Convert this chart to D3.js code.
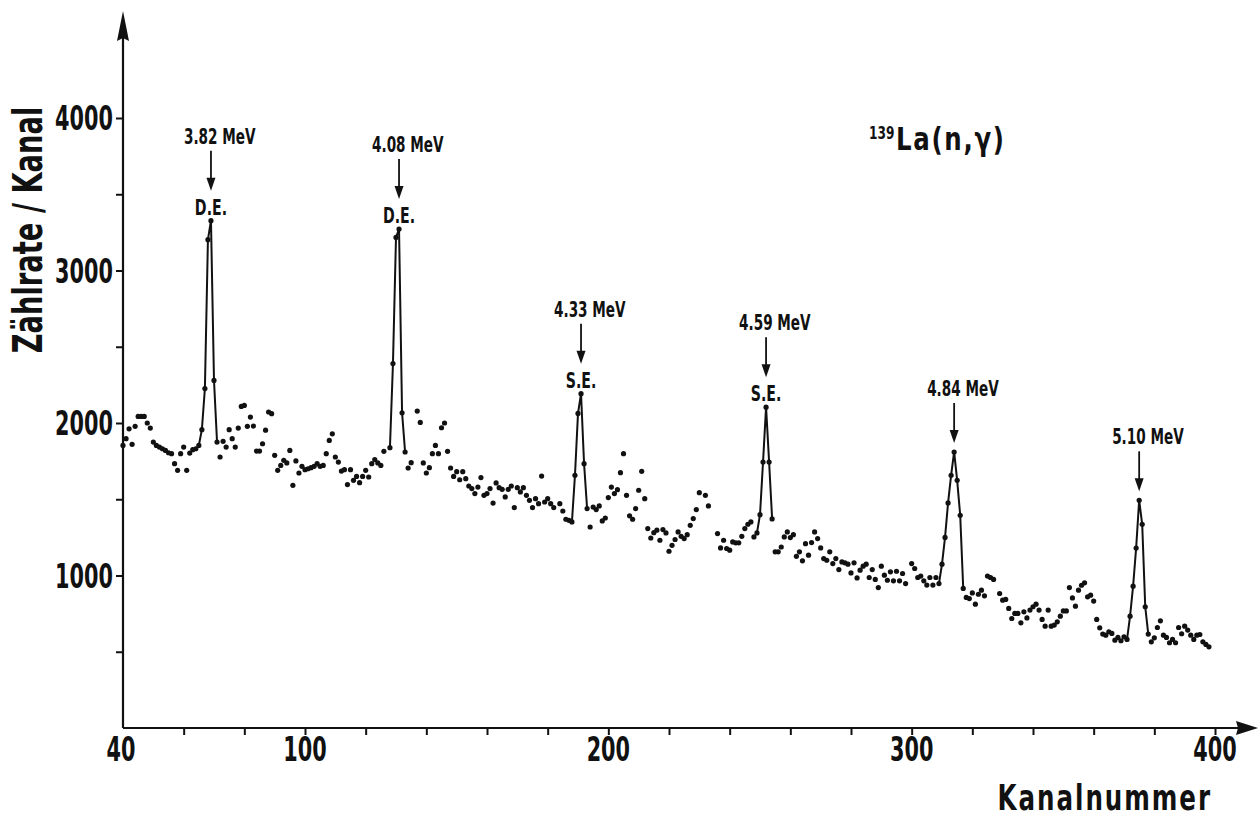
<!DOCTYPE html>
<html>
<head>
<meta charset="utf-8">
<script src="https://cdn.jsdelivr.net/npm/d3@7"></script>
<style>
  body { margin: 0; background: #fff; }
  svg { display: block; }
  text { font-family: "Liberation Sans Narrow", "DejaVu Sans Condensed", "Roboto Condensed", sans-serif; font-weight: bold; fill: #111; }
</style>
</head>
<body>
<div id="chart"></div>
<script>
const WIDTH = 1259
const HEIGHT = 821

// counts per channel, starting at channel 40 (null = no point plotted)
const firstChannel = 40
const counts = [
  1853, 1897, 1962, 1860, 1978, 2043, 2043, 2043, 2000, 1967,
  1875, 1853, 1842, 1831, 1820, 1805, 1799, 1733, 1690, 1799,
  1842, 1690, 1803, 1825, 1831, 1853, 1956, 2226, 3202, 3327,
  2279, 1875, 1777, 1880, 1842, 1956, 1897, 1842, 1967, 2109,
  2115, 1978, 2039, 1980, 1816, 1816, 1864, 1953, 2072, 2061,
  1788, 1690, 1722, 1755, 1738, 1820, 1591, 1751, 1672, 1716,
  1694, 1700, 1707, 1716, 1733, 1716, 1722, 1799, 1886, 1929,
  1777, 1744, 1685, 1694, 1596, 1694, 1624, 1650, 1609, 1650,
  1690, 1646, 1733, 1760, 1738, 1722, 1814, null, 1838, 2390,
  3217, 3272, 2067, 1810, 1705, 1740, null, 2078, 2004, 1738,
  1672, 1707, 1799, 1853, 1799, 1969, 2000, 1814, 1705, 1650,
  1681, 1628, 1681, 1635, 1587, 1570, 1537, 1580, 1642, 1526,
  1537, 1570, 1475, 1607, 1576, 1565, 1515, 1565, 1587, 1445,
  1576, 1548, 1576, 1526, 1493, 1445, 1504, 1471, 1652, 1482,
  1504, 1471, 1445, null, 1471, 1423, 1369, 1362, 1351, 1657,
  2063, 2192, 1733, 1439, 1318, 1449, 1432, 1456, 1358, 1377,
  1511, 1580, 1537, 1563, 1674, 1799, 1526, 1391, 1369, 1439,
  1559, 1683, 1504, 1308, 1246, 1281, 1297, 1231, 1301, 1279,
  1159, 1198, 1236, 1286, 1257, 1242, 1268, 1329, 1373, 1432,
  1543, null, 1526, 1456, null, null, 1275, 1181, 1231, 1177,
  1166, 1220, 1214, 1214, 1257, 1308, 1336, 1351, 1253, 1279,
  1399, 1744, 2104, 1744, 1371, 1155, 1155, 1187, 1253, 1286,
  1249, 1268, 1126, 1155, 1096, 1209, 1133, 1216, 1286, 1242,
  1181, 1111, 1100, 1155, 1078, 1111, 1039, 1089, 1083, 1074,
  1017, 1083, 984, 1035, 1061, 1074, 987, 1039, 974, 921,
  1061, 1002, 969, 1024, 965, 1028, 965, 1013, 947, null,
  1078, 1046, 987, 996, 965, 937, 987, 937, 987, 947,
  1074, 1250, 1476, 1657, 1810, 1624, 1395, 915, 856, 849,
  886, 812, 877, 904, 867, 996, 987, 974, null, 882,
  838, 843, 784, 718, 751, 751, 690, 762, 722, 773,
  795, 812, 773, 712, 668, 773, 668, 675, 696, 733,
  768, 768, 921, 853, 799, 904, 936, 952, 860, 871,
  832, 712, 657, 616, 609, 631, 620, 576, 594, 572,
  598, 581, 733, 930, 1180, 1493, 1336, 795, 616, 565,
  591, 659, 703, 609, 594, 559, 581, 559, 659, 618,
  668, 642, 609, 581, 609, 613, 565, 548, 532
]

// channel ranges joined by a line (the full-energy / escape peaks)
const peakRanges = [[65, 71], [128, 133], [188, 193], [249, 254], [309, 317], [371, 378]]
const peakLabels = ["3.82 MeV", "4.08 MeV", "4.33 MeV", "4.59 MeV", "4.84 MeV", "5.10 MeV"]
const peakSubLabels = ["D.E.", "D.E.", "S.E.", "S.E.", "", ""]

const xTicks = [60, 80, 100, 120, 140, 160, 180, 200, 220, 240, 260, 280, 300, 320, 340, 360, 380, 400]
const xTickLabels = [40, 100, 200, 300, 400]
const yTicks = [500, 1000, 1500, 2000, 2500, 3000, 3500, 4000]
const yTickLabels = [1000, 2000, 3000, 4000]

const data = counts.map((c, i) => ({ ch: firstChannel + i, n: c })).filter(d => d.n !== null)

const x = d3.scaleLinear().domain([40, 400]).range([123, 1215])
const y = d3.scaleLinear().domain([0, 4000]).range([728, 118])

const svg = d3.select("#chart").append("svg")
    .attr("width", WIDTH)
    .attr("height", HEIGHT)

// condensed text helper: horizontal squeeze like the original lettering
function squeezed(g, px, py, str, size, sx, anchor) {
    return g.append("text")
        .attr("transform", `translate(${px},${py}) scale(${sx},1)`)
        .attr("font-size", size)
        .attr("text-anchor", anchor || "middle")
        .text(str)
}

// axes
const axisG = svg.append("g").attr("stroke", "#111").attr("stroke-width", 2.2)
axisG.append("line").attr("x1", x(40)).attr("x2", 1240).attr("y1", y(0)).attr("y2", y(0))
axisG.append("line").attr("x1", x(40)).attr("x2", x(40)).attr("y1", y(0)).attr("y2", 30)
svg.append("path")
    .attr("d", `M1258,${y(0)} L1236,${y(0) - 7} L1238,${y(0)} L1236,${y(0) + 7} Z`)
    .attr("fill", "#111")
svg.append("path")
    .attr("d", `M${x(40)},11 L${x(40) - 6},41 L${x(40)},38 L${x(40) + 6},41 Z`)
    .attr("fill", "#111")

const xAxis = svg.append("g")
    .attr("transform", `translate(0,${y(0)})`)
    .call(d3.axisBottom(x).tickValues(xTicks).tickSize(7).tickFormat(""))
xAxis.select(".domain").remove()
xAxis.selectAll("line").attr("stroke", "#111").attr("stroke-width", 2)

const yAxis = svg.append("g")
    .attr("transform", `translate(${x(40)},0)`)
    .call(d3.axisLeft(y).tickValues(yTicks).tickSize(7).tickFormat(""))
yAxis.select(".domain").remove()
yAxis.selectAll("line").attr("stroke", "#111").attr("stroke-width", 2)

const labelG = svg.append("g")
xTickLabels.forEach(v => squeezed(labelG, x(v) + (v === 40 ? -2 : 0), 761, v, 34, 0.68))
yTickLabels.forEach(v => squeezed(labelG, 113, y(v) + 12, v, 34, 0.68, "end"))

squeezed(labelG, 1212, 810, "Kanalnummer", 35, 0.78, "end")
  .attr("letter-spacing", 2.5)
labelG.append("text")
    .attr("transform", "translate(42,230) rotate(-90) scale(0.76,1)")
    .attr("font-size", 40)
    .attr("text-anchor", "middle")
    .text("Zählrate / Kanal")

// reaction label
squeezed(labelG, 869, 139, "139", 18, 0.75, "start")
squeezed(labelG, 896, 150, "La(n,γ)", 32, 0.85, "start").attr("letter-spacing", 2)

// peak lines
const line = d3.line().x(d => x(d.ch)).y(d => y(d.n))
svg.append("g")
    .selectAll("path")
    .data(peakRanges)
    .join("path")
    .attr("d", r => line(data.filter(d => d.ch >= r[0] && d.ch <= r[1])))
    .attr("fill", "none")
    .attr("stroke", "#111")
    .attr("stroke-width", 2)

// points
svg.append("g")
    .selectAll("circle")
    .data(data)
    .join("circle")
    .attr("cx", d => x(d.ch))
    .attr("cy", d => y(d.n))
    .attr("r", 2.6)
    .attr("fill", "#111")

// peak annotations
const annG = svg.append("g")
peakRanges.forEach((r, i) => {
    const seg = data.filter(d => d.ch >= r[0] && d.ch <= r[1])
    const top = seg.reduce((a, b) => (b.n > a.n ? b : a))
    const px = x(top.ch)
    const tip = y(top.n) - (peakSubLabels[i] ? 30 : 9)
    annG.append("line")
        .attr("x1", px).attr("x2", px)
        .attr("y1", tip - 40).attr("y2", tip - 10)
        .attr("stroke", "#111").attr("stroke-width", 1.8)
    annG.append("path")
        .attr("d", `M${px},${tip} L${px - 4.5},${tip - 13} L${px + 4.5},${tip - 13} Z`)
        .attr("fill", "#111")
    squeezed(annG, px - 27, tip - 47, peakLabels[i], 21, 0.72, "start")
    if (peakSubLabels[i]) {
        squeezed(annG, px, tip + 24, peakSubLabels[i], 21, 0.75)
    }
})
</script>
</body>
</html>
